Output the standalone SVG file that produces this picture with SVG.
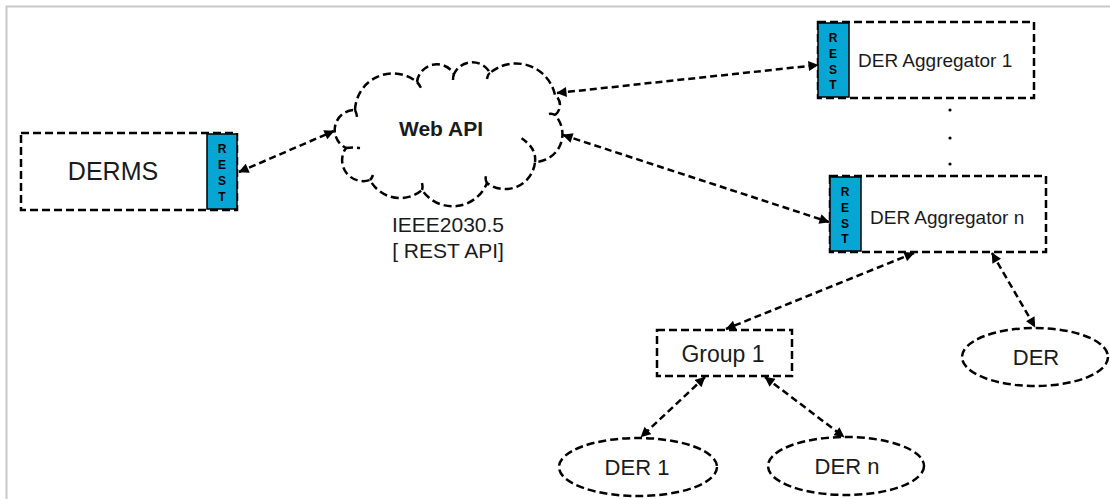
<svg xmlns="http://www.w3.org/2000/svg" width="1110" height="499" viewBox="0 0 1110 499">
  <defs>
    <marker id="ah" viewBox="0 0 10 10" refX="9.5" refY="5" markerWidth="11" markerHeight="10" markerUnits="userSpaceOnUse" orient="auto-start-reverse">
      <path d="M0,0 L10,5 L0,10 Z" fill="#000"/>
    </marker>
  </defs>
  <style>
    text { font-family: "Liberation Sans", Arial, sans-serif; fill: #1a1a1a; }
    .box { fill: #fff; stroke: #000; stroke-width: 2.5; stroke-dasharray: 8 4; }
    .rest { fill: #05a6d4; stroke: #000; stroke-width: 1.5; }
    .restlbl { font-size: 12px; font-weight: bold; text-anchor: middle; fill: #000; }
    .lbl { text-anchor: middle; }
    .conn { fill: none; stroke: #000; stroke-width: 2.5; stroke-dasharray: 7 4; marker-start: url(#ah); marker-end: url(#ah); }
    .inner { fill: none; stroke: #000; stroke-width: 2.5; stroke-dasharray: 7 4; }
  </style>

  <!-- page frame -->
  <rect x="6.5" y="6.5" width="1130" height="520" fill="#fff" stroke="#c8c8c8" stroke-width="2"/>

  <!-- DERMS -->
  <g id="derms">
    <rect class="box" x="21" y="133" width="216" height="77"/>
    <rect class="rest" x="207" y="134" width="30" height="75"/>
    <text class="restlbl" x="222" y="153">R</text>
    <text class="restlbl" x="222" y="169">E</text>
    <text class="restlbl" x="222" y="185">S</text>
    <text class="restlbl" x="222" y="201">T</text>
    <text class="lbl" x="113" y="180" font-size="25">DERMS</text>
  </g>

  <!-- Web API cloud -->
  <g id="webapi">
    <path class="box" d="M355,110 A38,38 0 0 1 417,82 A20,20 0 0 1 454,74 A20,20 0 0 1 490,73 A40,40 0 0 1 555,95 A12.5,12.5 0 0 1 555,115 A28,28 0 0 1 535,162 A30,30 0 0 1 487,183 A37,37 0 0 1 422,190 A34,34 0 0 1 370,180 A21,21 0 0 1 346,148 A20,20 0 0 1 355,110 Z"/>
    <path class="inner" d="M355,110 q2,4 2,8 M346,148 q7,-1 14,0 M370,180 q2,-2 3,-5 M417,82 q2,2 4,6 M454,74 q-1,2 -1,6 M490,73 q-2,1 -3,6 M422,190 q1,-3 0,-7 M487,183 q-2,-3 -1,-7 M535,162 q2,-15 -17,-26 M555,115 q-3,-2 -6,-1"/>
    <text class="lbl" x="441" y="136" font-size="21" font-weight="bold">Web API</text>
    <text class="lbl" x="448" y="232" font-size="21">IEEE2030.5</text>
    <text class="lbl" x="448" y="258" font-size="21">[ REST API]</text>
  </g>

  <!-- DER Aggregator 1 -->
  <g id="agg1">
    <rect class="box" x="818" y="22" width="216" height="76"/>
    <rect class="rest" x="818" y="23" width="31" height="74"/>
    <text class="restlbl" x="833" y="42">R</text>
    <text class="restlbl" x="833" y="58">E</text>
    <text class="restlbl" x="833" y="74">S</text>
    <text class="restlbl" x="833" y="89">T</text>
    <text x="858" y="67" font-size="19">DER Aggregator 1</text>
  </g>

  <!-- ellipsis between aggregators -->
  <g id="dots" fill="#000">
    <circle cx="950" cy="110" r="1.6"/>
    <circle cx="950" cy="138" r="1.6"/>
    <circle cx="950" cy="164" r="1.6"/>
  </g>

  <!-- DER Aggregator n -->
  <g id="aggn">
    <rect class="box" x="830" y="176" width="216" height="76"/>
    <rect class="rest" x="830" y="177" width="31" height="74"/>
    <text class="restlbl" x="845" y="196">R</text>
    <text class="restlbl" x="845" y="212">E</text>
    <text class="restlbl" x="845" y="228">S</text>
    <text class="restlbl" x="845" y="243">T</text>
    <text x="870" y="224" font-size="19">DER Aggregator n</text>
  </g>

  <!-- Group 1 -->
  <g id="group1">
    <rect class="box" x="657" y="330" width="135" height="46"/>
    <text class="lbl" x="723" y="362" font-size="23">Group 1</text>
  </g>

  <!-- DER units -->
  <g id="der">
    <ellipse class="box" cx="1035" cy="357" rx="73" ry="29"/>
    <text class="lbl" x="1036" y="365" font-size="22">DER</text>
  </g>
  <g id="der1">
    <ellipse class="box" cx="638" cy="467" rx="79" ry="29"/>
    <text class="lbl" x="637" y="475" font-size="22">DER 1</text>
  </g>
  <g id="dern">
    <ellipse class="box" cx="846" cy="466" rx="78" ry="29"/>
    <text class="lbl" x="847" y="474" font-size="22">DER n</text>
  </g>

  <!-- connectors -->
  <g id="connectors">
    <path class="conn" d="M239,172 L334,131"/>
    <path class="conn" d="M557,93 L818,65"/>
    <path class="conn" d="M563,135 L829,222"/>
    <path class="conn" d="M914,253 L726,329"/>
    <path class="conn" d="M992,253 L1035,327"/>
    <path class="conn" d="M705,377 L641,437"/>
    <path class="conn" d="M765,377 L844,437"/>
  </g>
</svg>
